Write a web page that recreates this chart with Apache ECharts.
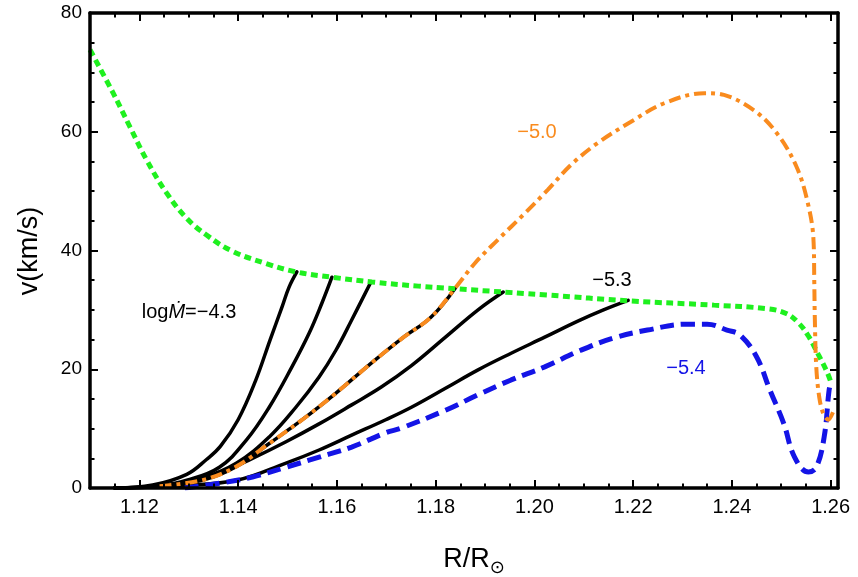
<!DOCTYPE html>
<html>
<head>
<meta charset="utf-8">
<script src="https://cdn.jsdelivr.net/npm/echarts@6/dist/echarts.min.js"></script>
<style>
  html, body { margin: 0; padding: 0; background: #fff; }
  #chart { width: 858px; height: 577px; }
</style>
</head>
<body>
<div id="chart"></div>
<script>
// Velocity profiles v(R) for several mass-loss rates, [R/R_sun, v in km/s]
const sonicCurve = [
  [1.1100, 73.8], [1.1147, 66.5], [1.1181, 60.8], [1.1215, 55.2], [1.1255, 49.7],
  [1.1296, 45.4], [1.1336, 42.6], [1.1388, 39.9], [1.1457, 37.8], [1.1517, 36.4],
  [1.1590, 35.5], [1.1671, 34.7], [1.1765, 34.0], [1.2027, 32.5], [1.2194, 31.5],
  [1.2364, 30.8], [1.2470, 30.2], [1.2510, 29.4], [1.2535, 27.8], [1.2555, 25.6],
  [1.2575, 22.5], [1.2593, 19.5], [1.2601, 17.7]
];
const track1 = [
  [1.1150, 0], [1.1227, 0.5], [1.1296, 2.3], [1.1336, 4.8], [1.1364, 7.0],
  [1.1400, 11.5], [1.1435, 18.0], [1.1465, 25.0], [1.1489, 30.5], [1.1503, 33.8], [1.1519, 36.4]
];
const track2 = [
  [1.1150, 0], [1.1240, 0.4], [1.1296, 1.3], [1.1362, 3.5], [1.1417, 8.1],
  [1.1463, 13.6], [1.1509, 20.4], [1.1544, 26.1], [1.1570, 31.2], [1.1590, 35.5]
];
const track3 = [
  [1.1150, 0], [1.1250, 0.4], [1.1328, 1.7], [1.1397, 4.2], [1.1463, 8.6],
  [1.1517, 13.6], [1.1564, 18.7], [1.1598, 23.2], [1.1630, 28.3], [1.1669, 34.7]
];
const track4 = [
  [1.1150, 0], [1.1241, 0.3], [1.1329, 1.35], [1.1396, 3.6], [1.1463, 7.5],
  [1.1530, 11.5], [1.1597, 15.9], [1.1665, 20.7], [1.1732, 25.2], [1.1791, 28.8],
  [1.1840, 33.7]
];
const track5 = [
  [1.1150, 0], [1.1250, 0.3], [1.1297, 1.0], [1.1362, 2.5], [1.1429, 5.0],
  [1.1497, 7.8], [1.1564, 10.8], [1.1630, 14.0], [1.1690, 17.0], [1.1751, 20.6],
  [1.1820, 25.4], [1.1886, 30.0], [1.1937, 33.0]
];
const track53 = [
  [1.1150, 0], [1.1280, 0.4], [1.1397, 1.3], [1.1497, 4.2], [1.1564, 6.4],
  [1.1630, 8.9], [1.1699, 11.5], [1.1751, 13.6], [1.1820, 16.8], [1.1886, 19.9],
  [1.1953, 22.7], [1.2021, 25.4], [1.2088, 28.1], [1.2140, 30.0], [1.2190, 31.6]
];
const track50 = [
  [1.1241, 0.3], [1.1329, 1.35], [1.1396, 3.6], [1.1463, 7.5], [1.1530, 11.5],
  [1.1597, 15.9], [1.1665, 20.7], [1.1732, 25.2], [1.1791, 28.8], [1.1840, 33.7],
  [1.1880, 37.9], [1.1926, 41.8], [1.1981, 46.3], [1.2027, 50.2], [1.2074, 54.4],
  [1.2128, 58.1], [1.2194, 61.6], [1.2263, 64.8], [1.2344, 66.5], [1.2384, 66.2],
  [1.2450, 63.3], [1.2497, 59.1], [1.2531, 54.1], [1.2551, 49.0], [1.2565, 42.3],
  [1.2567, 34.5], [1.2568, 28.8], [1.2571, 20.4], [1.2577, 15.3], [1.2585, 12.6],
  [1.2595, 11.5], [1.2605, 12.8]
];
const track54 = [
  [1.1292, 0], [1.1362, 0.8], [1.1429, 1.85], [1.1497, 3.5], [1.1564, 5.2],
  [1.1630, 6.9], [1.1699, 9.3], [1.1731, 10.1], [1.1820, 13.1], [1.1886, 15.7],
  [1.1953, 18.2], [1.2021, 20.4], [1.2094, 23.2], [1.2162, 25.3], [1.2229, 26.6],
  [1.2309, 27.6], [1.2350, 27.6], [1.2390, 26.6], [1.2416, 25.8], [1.2450, 22.1],
  [1.2477, 16.5], [1.2505, 10.9], [1.2527, 5.2], [1.2555, 2.7], [1.2571, 3.5],
  [1.2587, 8.6], [1.2597, 16.5], [1.2601, 17.9]
];

const xRange = [1.11, 1.2615];
const yRange = [0, 80];
const annotations = [
  { text: 'log{i|Ṁ}=−4.3', x: 189, y: 312, color: '#000000' },
  { text: '−5.0', x: 537, y: 132, color: '#f98b1e' },
  { text: '−5.3', x: 612, y: 280, color: '#000000' },
  { text: '−5.4', x: 686, y: 368, color: '#1414e6' }
];

const FONT = '"Liberation Sans", Arial, "DejaVu Sans", sans-serif';
const chart = echarts.init(document.getElementById('chart'));

// Two overlapping grids: grid 0 carries the data, labels and major ticks, grid 1 the minor ticks
const gridBox = () => ({ left: 90, right: 20, top: 13, bottom: 89, outerBoundsMode: 'none' });
const frameLine = () => ({ show: true, onZero: false, lineStyle: { color: '#000', width: 3.5 } });
const hiddenLine = () => ({ show: false, onZero: false });
const majorTick = () => ({ show: true, inside: true, length: 8, lineStyle: { color: '#000', width: 2 } });
const minorTick = () => ({ show: true, inside: true, length: 4.5, lineStyle: { color: '#000', width: 2 } });
const AXIS_Z = 20;

function blackTrack(data) {
  return {
    type: 'line', xAxisIndex: 0, yAxisIndex: 0, data: data, smooth: 0.4,
    showSymbol: false, symbol: 'none', z: 2,
    lineStyle: { color: '#000', width: 3.5, cap: 'round', join: 'round' }
  };
}

const option = {
  animation: false,
  backgroundColor: '#fff',
  grid: [gridBox(), gridBox()],
  xAxis: [
    {
      type: 'value', gridIndex: 0, position: 'bottom', z: AXIS_Z,
      min: xRange[0], max: xRange[1], splitNumber: 8, minInterval: 0.02, maxInterval: 0.02,
      axisLine: frameLine(), axisTick: majorTick(), splitLine: { show: false },
      axisLabel: {
        color: '#000', fontSize: 20, fontFamily: FONT, margin: 9,
        showMinLabel: false, showMaxLabel: false,
        formatter: function (v) { return v.toFixed(2); }
      }
    },
    {
      type: 'value', gridIndex: 0, position: 'top', z: AXIS_Z,
      min: xRange[0], max: xRange[1], splitNumber: 8, minInterval: 0.02, maxInterval: 0.02,
      axisLine: frameLine(), axisTick: majorTick(), splitLine: { show: false },
      axisLabel: { show: false }
    },
    {
      type: 'value', gridIndex: 1, position: 'bottom', z: AXIS_Z,
      min: xRange[0], max: xRange[1], interval: 0.005,
      axisLine: hiddenLine(), axisTick: minorTick(), splitLine: { show: false },
      axisLabel: { show: false }
    },
    {
      type: 'value', gridIndex: 1, position: 'top', z: AXIS_Z,
      min: xRange[0], max: xRange[1], interval: 0.005,
      axisLine: hiddenLine(), axisTick: minorTick(), splitLine: { show: false },
      axisLabel: { show: false }
    }
  ],
  yAxis: [
    {
      type: 'value', gridIndex: 0, position: 'left', z: AXIS_Z,
      min: yRange[0], max: yRange[1], interval: 20,
      axisLine: frameLine(), axisTick: majorTick(), splitLine: { show: false },
      axisLabel: { color: '#000', fontSize: 19, fontFamily: FONT, margin: 8 }
    },
    {
      type: 'value', gridIndex: 0, position: 'right', z: AXIS_Z,
      min: yRange[0], max: yRange[1], interval: 20,
      axisLine: frameLine(), axisTick: majorTick(), splitLine: { show: false },
      axisLabel: { show: false }
    },
    {
      type: 'value', gridIndex: 1, position: 'left', z: AXIS_Z,
      min: yRange[0], max: yRange[1], interval: 5,
      axisLine: hiddenLine(), axisTick: minorTick(), splitLine: { show: false },
      axisLabel: { show: false }
    },
    {
      type: 'value', gridIndex: 1, position: 'right', z: AXIS_Z,
      min: yRange[0], max: yRange[1], interval: 5,
      axisLine: hiddenLine(), axisTick: minorTick(), splitLine: { show: false },
      axisLabel: { show: false }
    }
  ],
  series: [
    blackTrack(track1),
    blackTrack(track2),
    blackTrack(track3),
    blackTrack(track4),
    blackTrack(track5),
    blackTrack(track53),
    {
      type: 'line', xAxisIndex: 0, yAxisIndex: 0, data: track54, smooth: 0.4,
      showSymbol: false, symbol: 'none', z: 3,
      lineStyle: { color: '#1414e6', width: 5, type: [14, 7], cap: 'butt' }
    },
    {
      type: 'line', xAxisIndex: 0, yAxisIndex: 0, data: sonicCurve, smooth: 0.4,
      showSymbol: false, symbol: 'none', z: 4,
      lineStyle: { color: '#1ff01f', width: 5, type: [7, 4.5], cap: 'butt' }
    },
    {
      type: 'line', xAxisIndex: 0, yAxisIndex: 0, data: track50, smooth: 0.35,
      showSymbol: false, symbol: 'none', z: 5,
      lineStyle: { color: '#f98b1e', width: 4, type: [12, 5, 4, 5], cap: 'butt' }
    }
  ],
  graphic: [
    {
      type: 'text', x: 30, y: 251, rotation: Math.PI / 2, z: 10,
      style: { text: 'v(km/s)', fill: '#000', fontSize: 27, fontFamily: FONT, align: 'center', verticalAlign: 'middle' }
    },
    {
      type: 'text', x: 474, y: 560, z: 10,
      style: {
        text: 'R/R{s|⊙}', fill: '#000', fontSize: 27, fontFamily: FONT, align: 'center', verticalAlign: 'middle',
        rich: { s: { fontSize: 18, fontFamily: '"DejaVu Sans", sans-serif', fill: '#000', padding: [16, 0, 0, 0] } }
      }
    }
  ].concat(annotations.map(function (a) {
    return {
      type: 'text', x: a.x, y: a.y, z: 10,
      style: {
        text: a.text, fill: a.color, fontSize: 20, fontFamily: FONT,
        align: 'center', verticalAlign: 'middle',
        rich: { i: { fontStyle: 'italic', fontSize: 20, fontFamily: FONT, fill: a.color } }
      }
    };
  }))
};

chart.setOption(option);
</script>
</body>
</html>
